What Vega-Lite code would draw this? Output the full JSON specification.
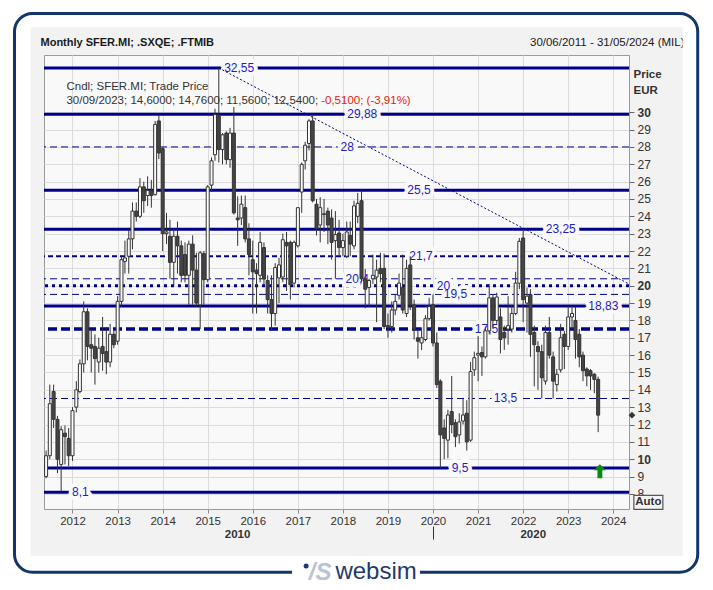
{
  "$schema": "https://vega.github.io/schema/vega-lite/v6.json",
  "width": 585,
  "height": 454,
  "autosize": {"type": "none"},
  "padding": {"left": 44, "top": 55, "right": 84, "bottom": 81},
  "background": "#f2f2f2",
  "config": {"font": "Liberation Sans", "view": {"stroke": "#9a9a9a", "fill": "#f9f9f9"}},
  "datasets": {
    "candles": [
      {"date": "2011-06-01", "open": 9.0, "high": 10.5, "low": 8.9, "close": 10.2},
      {"date": "2011-07-01", "open": 10.2, "high": 14.3, "low": 10.0, "close": 13.2},
      {"date": "2011-08-01", "open": 13.9, "high": 14.3, "low": 11.8, "close": 12.3},
      {"date": "2011-09-01", "open": 12.3, "high": 12.5, "low": 9.2, "close": 10.0},
      {"date": "2011-10-01", "open": 9.7, "high": 11.9, "low": 8.1, "close": 11.7},
      {"date": "2011-11-01", "open": 11.5, "high": 11.95, "low": 9.7, "close": 11.3},
      {"date": "2011-12-01", "open": 11.2, "high": 11.8, "low": 9.6, "close": 10.2},
      {"date": "2012-01-01", "open": 10.2, "high": 13.0, "low": 9.9, "close": 12.8},
      {"date": "2012-02-01", "open": 13.0, "high": 14.5, "low": 12.7, "close": 14.0},
      {"date": "2012-03-01", "open": 13.9, "high": 15.75, "low": 13.8, "close": 15.5},
      {"date": "2012-04-01", "open": 15.5, "high": 19.1, "low": 15.0, "close": 18.5},
      {"date": "2012-05-01", "open": 18.5, "high": 18.7, "low": 15.7, "close": 16.5},
      {"date": "2012-06-01", "open": 16.6, "high": 17.5, "low": 15.0, "close": 16.4},
      {"date": "2012-07-01", "open": 16.5, "high": 17.2, "low": 14.3, "close": 15.8},
      {"date": "2012-08-01", "open": 15.6, "high": 17.0, "low": 15.0, "close": 16.4},
      {"date": "2012-09-01", "open": 16.5, "high": 18.2, "low": 15.1, "close": 16.1},
      {"date": "2012-10-01", "open": 16.2, "high": 17.6, "low": 14.9, "close": 15.6},
      {"date": "2012-11-01", "open": 15.6, "high": 17.8, "low": 15.3, "close": 17.2},
      {"date": "2012-12-01", "open": 17.2, "high": 17.5, "low": 16.4, "close": 16.6},
      {"date": "2013-01-01", "open": 16.8, "high": 19.4, "low": 16.6, "close": 19.1},
      {"date": "2013-02-01", "open": 19.1, "high": 21.7, "low": 18.8, "close": 21.5},
      {"date": "2013-03-01", "open": 21.4, "high": 22.6, "low": 20.7, "close": 21.6},
      {"date": "2013-04-01", "open": 21.7, "high": 23.2, "low": 20.7, "close": 22.7},
      {"date": "2013-05-01", "open": 22.7, "high": 24.8, "low": 22.1, "close": 24.3},
      {"date": "2013-06-01", "open": 24.3, "high": 24.8, "low": 23.7, "close": 24.0},
      {"date": "2013-07-01", "open": 24.0, "high": 26.2, "low": 23.9, "close": 25.7},
      {"date": "2013-08-01", "open": 25.7, "high": 26.0, "low": 24.2, "close": 24.9},
      {"date": "2013-09-01", "open": 25.2, "high": 26.3, "low": 24.6, "close": 25.5},
      {"date": "2013-10-01", "open": 25.5, "high": 26.1, "low": 24.5, "close": 25.2},
      {"date": "2013-11-01", "open": 25.25, "high": 29.5, "low": 25.2, "close": 29.3},
      {"date": "2013-12-01", "open": 29.5, "high": 29.87, "low": 27.3, "close": 27.65},
      {"date": "2014-01-01", "open": 27.9, "high": 28.0, "low": 22.0, "close": 23.0},
      {"date": "2014-02-01", "open": 23.0, "high": 24.2, "low": 22.4, "close": 23.1},
      {"date": "2014-03-01", "open": 22.85, "high": 23.8, "low": 20.4, "close": 21.35},
      {"date": "2014-04-01", "open": 21.35, "high": 23.3, "low": 20.0, "close": 22.85},
      {"date": "2014-05-01", "open": 22.85, "high": 23.7, "low": 20.7, "close": 22.3},
      {"date": "2014-06-01", "open": 22.3, "high": 22.6, "low": 20.2, "close": 20.6},
      {"date": "2014-07-01", "open": 21.8, "high": 22.5, "low": 20.2, "close": 20.6},
      {"date": "2014-08-01", "open": 20.6, "high": 22.6, "low": 18.9, "close": 22.4},
      {"date": "2014-09-01", "open": 22.4, "high": 22.9, "low": 18.9, "close": 20.9},
      {"date": "2014-10-01", "open": 20.9, "high": 21.9, "low": 18.8, "close": 19.0},
      {"date": "2014-11-01", "open": 18.9, "high": 22.0, "low": 17.5, "close": 21.9},
      {"date": "2014-12-01", "open": 21.85, "high": 22.0, "low": 18.9, "close": 20.35},
      {"date": "2015-01-01", "open": 20.35, "high": 25.8, "low": 20.2, "close": 25.7},
      {"date": "2015-02-01", "open": 25.8, "high": 27.4, "low": 25.4, "close": 27.2},
      {"date": "2015-03-01", "open": 27.55, "high": 30.2, "low": 27.2, "close": 29.86},
      {"date": "2015-04-01", "open": 29.77, "high": 32.55, "low": 27.1, "close": 27.85},
      {"date": "2015-05-01", "open": 27.85, "high": 28.8, "low": 27.0, "close": 28.7},
      {"date": "2015-06-01", "open": 28.8, "high": 28.9, "low": 27.0, "close": 27.27},
      {"date": "2015-07-01", "open": 27.27, "high": 29.1, "low": 26.8, "close": 28.8},
      {"date": "2015-08-01", "open": 28.8, "high": 30.3, "low": 24.1, "close": 24.2},
      {"date": "2015-09-01", "open": 23.9, "high": 25.15, "low": 22.3, "close": 23.8},
      {"date": "2015-10-01", "open": 23.9, "high": 25.2, "low": 23.5, "close": 24.7},
      {"date": "2015-11-01", "open": 24.5, "high": 25.2, "low": 22.5, "close": 22.7},
      {"date": "2015-12-01", "open": 22.7, "high": 23.6, "low": 20.6, "close": 21.8},
      {"date": "2016-01-01", "open": 21.5, "high": 22.6, "low": 18.4, "close": 20.8},
      {"date": "2016-02-01", "open": 20.9, "high": 21.3, "low": 18.4, "close": 20.7},
      {"date": "2016-03-01", "open": 20.6, "high": 23.1, "low": 20.2, "close": 22.5},
      {"date": "2016-04-01", "open": 22.2, "high": 22.5, "low": 20.0, "close": 20.4},
      {"date": "2016-05-01", "open": 20.3, "high": 20.6, "low": 18.4, "close": 19.2},
      {"date": "2016-06-01", "open": 19.2, "high": 20.6, "low": 17.4, "close": 18.4},
      {"date": "2016-07-01", "open": 18.4, "high": 21.3, "low": 17.7, "close": 21.05},
      {"date": "2016-08-01", "open": 20.45, "high": 21.6, "low": 19.0, "close": 21.2},
      {"date": "2016-09-01", "open": 20.5, "high": 23.0, "low": 20.2, "close": 22.65},
      {"date": "2016-10-01", "open": 22.5, "high": 23.1, "low": 19.7, "close": 22.3},
      {"date": "2016-11-01", "open": 22.5, "high": 22.6, "low": 19.2, "close": 20.05},
      {"date": "2016-12-01", "open": 20.15, "high": 22.6, "low": 19.9, "close": 22.5},
      {"date": "2017-01-01", "open": 22.3, "high": 24.5, "low": 22.2, "close": 24.5},
      {"date": "2017-02-01", "open": 25.4, "high": 27.1, "low": 24.2, "close": 27.0},
      {"date": "2017-03-01", "open": 27.2, "high": 28.3, "low": 26.7, "close": 28.1},
      {"date": "2017-04-01", "open": 28.2, "high": 29.6, "low": 27.8, "close": 29.5},
      {"date": "2017-05-01", "open": 29.5, "high": 29.88, "low": 24.8, "close": 24.9},
      {"date": "2017-06-01", "open": 24.7, "high": 25.0, "low": 22.9, "close": 23.3},
      {"date": "2017-07-01", "open": 23.5, "high": 25.1, "low": 22.5, "close": 24.5},
      {"date": "2017-08-01", "open": 24.1, "high": 25.0, "low": 23.1, "close": 24.15},
      {"date": "2017-09-01", "open": 24.3, "high": 24.5, "low": 22.4, "close": 23.5},
      {"date": "2017-10-01", "open": 23.9, "high": 24.4, "low": 21.5, "close": 22.5},
      {"date": "2017-11-01", "open": 22.6, "high": 24.3, "low": 20.4, "close": 22.95},
      {"date": "2017-12-01", "open": 23.04, "high": 23.8, "low": 21.7, "close": 22.2},
      {"date": "2018-01-01", "open": 22.2, "high": 23.0, "low": 21.7, "close": 22.6},
      {"date": "2018-02-01", "open": 21.7, "high": 23.7, "low": 21.6, "close": 23.1},
      {"date": "2018-03-01", "open": 22.9, "high": 23.7, "low": 21.7, "close": 22.4},
      {"date": "2018-04-01", "open": 22.3, "high": 24.9, "low": 22.1, "close": 24.6},
      {"date": "2018-05-01", "open": 24.0, "high": 25.35, "low": 23.6, "close": 24.75},
      {"date": "2018-06-01", "open": 24.9, "high": 25.5, "low": 20.2, "close": 20.4},
      {"date": "2018-07-01", "open": 20.4, "high": 20.96, "low": 18.7, "close": 19.8},
      {"date": "2018-08-01", "open": 19.9, "high": 20.4, "low": 18.8, "close": 20.3},
      {"date": "2018-09-01", "open": 20.4, "high": 21.8, "low": 20.1, "close": 20.6},
      {"date": "2018-10-01", "open": 20.5, "high": 21.5, "low": 17.9, "close": 20.9},
      {"date": "2018-11-01", "open": 21.0, "high": 21.9, "low": 20.2, "close": 20.7},
      {"date": "2018-12-01", "open": 21.0, "high": 21.85, "low": 17.5, "close": 17.65},
      {"date": "2019-01-01", "open": 17.7, "high": 18.4, "low": 17.0, "close": 17.6},
      {"date": "2019-02-01", "open": 17.65, "high": 19.1, "low": 17.3, "close": 18.6},
      {"date": "2019-03-01", "open": 18.6, "high": 19.5, "low": 18.3, "close": 19.1},
      {"date": "2019-04-01", "open": 19.45, "high": 20.7, "low": 19.2, "close": 20.15},
      {"date": "2019-05-01", "open": 19.9, "high": 21.8, "low": 18.4, "close": 18.6},
      {"date": "2019-06-01", "open": 18.4, "high": 21.5, "low": 18.2, "close": 21.0},
      {"date": "2019-07-01", "open": 21.2, "high": 21.7, "low": 18.6, "close": 18.9},
      {"date": "2019-08-01", "open": 18.9, "high": 19.2, "low": 16.9, "close": 17.5},
      {"date": "2019-09-01", "open": 17.0, "high": 17.5, "low": 15.8, "close": 16.8},
      {"date": "2019-10-01", "open": 16.7, "high": 17.6, "low": 16.3, "close": 17.0},
      {"date": "2019-11-01", "open": 16.9, "high": 18.3, "low": 16.8, "close": 18.1},
      {"date": "2019-12-01", "open": 18.1, "high": 19.3, "low": 18.0, "close": 18.8},
      {"date": "2020-01-01", "open": 18.9, "high": 19.5, "low": 16.5, "close": 16.7},
      {"date": "2020-02-01", "open": 16.7, "high": 17.3, "low": 14.1, "close": 14.3},
      {"date": "2020-03-01", "open": 14.5, "high": 14.6, "low": 9.5, "close": 11.4},
      {"date": "2020-04-01", "open": 11.8, "high": 12.3, "low": 10.0, "close": 11.2},
      {"date": "2020-05-01", "open": 11.1, "high": 12.85, "low": 10.05, "close": 12.55},
      {"date": "2020-06-01", "open": 12.75, "high": 14.8, "low": 11.5, "close": 12.0},
      {"date": "2020-07-01", "open": 12.1, "high": 12.3, "low": 10.7, "close": 11.3},
      {"date": "2020-08-01", "open": 11.4, "high": 12.65, "low": 10.9, "close": 12.15},
      {"date": "2020-09-01", "open": 12.2, "high": 13.5, "low": 12.0, "close": 12.55},
      {"date": "2020-10-01", "open": 12.65, "high": 13.4, "low": 10.5, "close": 11.0},
      {"date": "2020-11-01", "open": 11.1, "high": 15.6, "low": 11.0, "close": 15.05},
      {"date": "2020-12-01", "open": 15.15, "high": 16.2, "low": 14.8, "close": 15.85},
      {"date": "2021-01-01", "open": 16.0, "high": 17.1, "low": 14.5, "close": 16.1},
      {"date": "2021-02-01", "open": 16.15, "high": 16.5, "low": 14.8, "close": 15.9},
      {"date": "2021-03-01", "open": 15.9, "high": 17.65, "low": 15.8, "close": 17.4},
      {"date": "2021-04-01", "open": 17.4, "high": 20.1, "low": 17.2, "close": 19.3},
      {"date": "2021-05-01", "open": 19.3, "high": 19.5, "low": 17.6, "close": 18.0},
      {"date": "2021-06-01", "open": 18.0, "high": 19.6, "low": 17.8, "close": 19.35},
      {"date": "2021-07-01", "open": 18.2, "high": 18.7, "low": 16.1, "close": 16.9},
      {"date": "2021-08-01", "open": 17.3, "high": 17.7, "low": 16.3, "close": 17.0},
      {"date": "2021-09-01", "open": 17.5, "high": 19.4, "low": 16.6, "close": 17.7},
      {"date": "2021-10-01", "open": 17.5, "high": 18.9, "low": 17.3, "close": 18.4},
      {"date": "2021-11-01", "open": 18.4, "high": 20.8, "low": 18.3, "close": 20.15},
      {"date": "2021-12-01", "open": 20.15, "high": 22.75, "low": 19.8, "close": 22.56},
      {"date": "2022-01-01", "open": 22.75, "high": 23.25, "low": 17.9, "close": 19.2},
      {"date": "2022-02-01", "open": 19.0, "high": 19.9, "low": 17.3, "close": 19.4},
      {"date": "2022-03-01", "open": 19.5, "high": 19.8, "low": 15.9, "close": 17.2},
      {"date": "2022-04-01", "open": 17.3, "high": 17.7, "low": 14.2, "close": 16.6},
      {"date": "2022-05-01", "open": 16.5, "high": 16.8, "low": 14.0, "close": 16.2},
      {"date": "2022-06-01", "open": 16.2, "high": 16.6, "low": 13.5, "close": 14.7},
      {"date": "2022-07-01", "open": 14.5, "high": 17.7, "low": 14.3, "close": 17.3},
      {"date": "2022-08-01", "open": 17.3, "high": 18.2, "low": 15.8, "close": 16.0},
      {"date": "2022-09-01", "open": 15.9, "high": 16.2, "low": 13.5, "close": 14.5},
      {"date": "2022-10-01", "open": 14.3, "high": 15.2, "low": 13.9, "close": 14.9},
      {"date": "2022-11-01", "open": 15.15, "high": 17.8, "low": 15.0, "close": 17.0},
      {"date": "2022-12-01", "open": 17.2, "high": 17.4, "low": 15.2, "close": 16.5},
      {"date": "2023-01-01", "open": 16.5, "high": 18.83, "low": 16.3, "close": 18.2},
      {"date": "2023-02-01", "open": 18.2, "high": 18.83, "low": 17.5, "close": 18.4},
      {"date": "2023-03-01", "open": 18.0, "high": 18.8, "low": 15.8, "close": 16.9},
      {"date": "2023-04-01", "open": 17.2, "high": 17.5, "low": 15.3, "close": 15.9},
      {"date": "2023-05-01", "open": 16.0, "high": 16.2, "low": 14.5, "close": 15.1},
      {"date": "2023-06-01", "open": 15.2, "high": 15.3, "low": 14.2, "close": 14.8},
      {"date": "2023-07-01", "open": 15.1, "high": 15.2, "low": 14.0, "close": 14.8},
      {"date": "2023-08-01", "open": 14.9, "high": 14.95, "low": 13.8, "close": 14.6},
      {"date": "2023-09-01", "open": 14.6, "high": 14.76, "low": 11.56, "close": 12.54}
    ],
    "lvSolid": [{"value": 32.55}, {"value": 29.88}, {"value": 25.5}, {"value": 23.25}, {"value": 18.83}, {"value": 9.5}, {"value": 8.1}],
    "lvThin": [{"value": 28}, {"value": 20.4}, {"value": 19.5}, {"value": 13.5}],
    "lvDash": [{"value": 21.7}],
    "lvDot": [{"value": 20}],
    "lvLong": [{"value": 17.5}],
    "lvLabels": [
      {"value": 32.55, "label": "32,55", "at": "2015-09-13"},
      {"value": 29.88, "label": "29,88", "at": "2018-06-07"},
      {"value": 28, "label": "28", "at": "2018-02-05"},
      {"value": 25.5, "label": "25,5", "at": "2019-09-10"},
      {"value": 23.25, "label": "23,25", "at": "2022-11-02"},
      {"value": 21.7, "label": "21,7", "at": "2019-09-26"},
      {"value": 20.4, "label": "20,4", "at": "2018-04-27"},
      {"value": 20, "label": "20", "at": "2020-03-26"},
      {"value": 19.5, "label": "19,5", "at": "2020-07-01"},
      {"value": 18.83, "label": "18,83", "at": "2023-10-13"},
      {"value": 17.5, "label": "17,5", "at": "2021-03-10"},
      {"value": 13.5, "label": "13,5", "at": "2021-08-11"},
      {"value": 9.5, "label": "9,5", "at": "2020-08-07"},
      {"value": 8.1, "label": "8,1", "at": "2012-03-05"}
    ],
    "trend": [{"at": "2015-04-01", "value": 32.55}, {"at": "2024-05-08", "value": 20.1}],
    "legend": [
      {"at": "2011-11-13", "value": 31.48, "text": "Cndl; SFER.MI; Trade Price", "kind": "info"},
      {"at": "2011-11-13", "value": 30.67, "text": "30/09/2023; 14,6000; 14,7600; 11,5600; 12,5400;", "kind": "info"},
      {"at": "2017-07-09", "value": 30.67, "text": "-0,5100; (-3,91%)", "kind": "change"}
    ]
  },
  "layer": [
    {
      "data": {"values": [{}]},
      "mark": {"type": "rect", "fill": "transparent", "stroke": "#ffffff", "strokeWidth": 80, "clip": false},
      "encoding": {
        "x": {"datum": {"year": 2010, "month": 3, "date": 8}, "type": "temporal", "axis": null, "scale": {"domain": [{"year": 2011, "month": 5, "date": 15}, {"year": 2024, "month": 5, "date": 8}], "padding": 0}},
        "x2": {"datum": {"year": 2026, "month": 6, "date": 7}},
        "y": {"datum": 37.2, "type": "quantitative", "axis": null, "scale": {"domain": [7.13, 33.3], "zero": false, "nice": false, "padding": 0}},
        "y2": {"datum": 2.11}
      }
    },
    {
      "data": {"values": [{}]},
      "mark": {"type": "rect", "fill": "transparent", "stroke": "#14356a", "strokeWidth": 3, "cornerRadius": 18, "clip": false},
      "encoding": {
        "x": {"datum": {"year": 2010, "month": 9, "date": 18}, "type": "temporal", "axis": null},
        "x2": {"datum": {"year": 2025, "month": 11, "date": 16}},
        "y": {"datum": 35.69, "type": "quantitative", "axis": null},
        "y2": {"datum": 3.48}
      }
    },
    {
      "data": {"values": [{}]},
      "mark": {"type": "point", "filled": true, "fill": "#ffffff", "opacity": 1, "strokeWidth": 0, "size": 16384, "shape": "M-1,-0.125L1,-0.125L1,0.125L-1,0.125Z", "clip": false},
      "encoding": {
        "x": {"datum": {"year": 2018, "month": 4, "date": 17}, "type": "temporal", "axis": null},
        "y": {"datum": 3.49, "type": "quantitative", "axis": null}
      }
    },
    {
      "data": {"values": [{}]},
      "mark": {"type": "text", "text": "websim", "fontSize": 24, "color": "#1f3a6b", "align": "center", "baseline": "middle", "clip": false},
      "encoding": {
        "x": {"datum": {"year": 2018, "month": 9, "date": 27}, "type": "temporal", "axis": null},
        "y": {"datum": 3.49, "type": "quantitative", "axis": null}
      }
    },
    {
      "data": {"values": [{}]},
      "mark": {"type": "text", "text": "/S", "fontSize": 24, "fontStyle": "italic", "fontWeight": "bold", "color": "#b8c4d4", "align": "center", "baseline": "middle", "clip": false},
      "encoding": {
        "x": {"datum": {"year": 2017, "month": 7, "date": 1}, "type": "temporal", "axis": null},
        "y": {"datum": 3.45, "type": "quantitative", "axis": null}
      }
    },
    {
      "data": {"values": [{}]},
      "mark": {"type": "point", "shape": "circle", "filled": true, "color": "#1f3a6b", "opacity": 1, "size": 25, "clip": false},
      "encoding": {
        "x": {"datum": {"year": 2017, "month": 3, "date": 9}, "type": "temporal", "axis": null},
        "y": {"datum": 3.84, "type": "quantitative", "axis": null}
      }
    },
    {
      "data": {"name": "lvSolid"},
      "mark": {"type": "rule", "color": "#00008c", "strokeWidth": 3},
      "encoding": {"y": {"field": "value", "type": "quantitative", "axis": null}}
    },
    {
      "data": {"name": "lvThin"},
      "mark": {"type": "rule", "color": "#00008c", "strokeWidth": 1, "strokeDash": [7, 4]},
      "encoding": {"y": {"field": "value", "type": "quantitative", "axis": null}}
    },
    {
      "data": {"name": "lvDash"},
      "mark": {"type": "rule", "color": "#00008c", "strokeWidth": 2, "strokeDash": [5, 3]},
      "encoding": {"y": {"field": "value", "type": "quantitative", "axis": null}}
    },
    {
      "data": {"name": "lvDot"},
      "mark": {"type": "rule", "color": "#00008c", "strokeWidth": 3, "strokeDash": [3, 4]},
      "encoding": {"y": {"field": "value", "type": "quantitative", "axis": null}}
    },
    {
      "data": {"name": "lvLong"},
      "mark": {"type": "rule", "color": "#00008c", "strokeWidth": 3.5, "strokeDash": [9, 4]},
      "encoding": {"y": {"field": "value", "type": "quantitative", "axis": null}}
    },
    {
      "data": {"name": "lvLabels"},
      "mark": {"type": "text", "fontSize": 12, "fill": "#f9f9f9", "stroke": "#f9f9f9", "strokeWidth": 8, "strokeJoin": "round", "align": "center", "baseline": "middle"},
      "encoding": {
        "x": {"field": "at", "type": "temporal", "axis": null},
        "y": {"field": "value", "type": "quantitative", "axis": null},
        "text": {"field": "label"}
      }
    },
    {
      "data": {"name": "lvLabels"},
      "mark": {"type": "text", "fontSize": 12, "fill": "#1c1cc8", "align": "center", "baseline": "middle"},
      "encoding": {
        "x": {"field": "at", "type": "temporal", "axis": null},
        "y": {"field": "value", "type": "quantitative", "axis": null},
        "text": {"field": "label"}
      }
    },
    {
      "data": {"name": "trend"},
      "mark": {"type": "line", "color": "#00008c", "strokeWidth": 1, "strokeDash": [2, 2]},
      "encoding": {
        "x": {"field": "at", "type": "temporal", "axis": {"orient": "top", "domain": false, "ticks": false, "labels": false, "grid": false, "title": "30/06/2011 - 31/05/2024 (MIL)", "titleX": 640, "titleY": -8, "titleAlign": "right", "titleAnchor": null, "titleBaseline": "bottom", "titleLimit": 1000, "titleFontWeight": "normal", "titleFontSize": 11.5, "titleColor": "#1a1a1a"}},
        "y": {"field": "value", "type": "quantitative", "axis": null}
      }
    },
    {
      "data": {"name": "candles"},
      "mark": {"type": "rule", "color": "#333333", "strokeWidth": 1},
      "encoding": {
        "x": {"field": "date", "type": "temporal", "scale": {"padding": 0}, "axis": {"orient": "bottom", "values": [{"year": 2015, "month": 8, "date": 27}, {"year": 2022, "month": 3, "date": 20}], "labelExpr": "year(datum.value) < 2020 ? '2010' : '2020'", "ticks": false, "tickSize": 0, "domain": false, "grid": false, "labelFontWeight": "bold", "labelFontSize": 11.5, "labelColor": "#333333", "offset": 17, "labelPadding": 2, "title": null}},
        "y": {"field": "low", "type": "quantitative", "axis": null},
        "y2": {"field": "high"}
      }
    },
    {
      "data": {"name": "candles"},
      "mark": {"type": "bar", "size": 3, "stroke": "#333333", "strokeWidth": 1},
      "encoding": {
        "x": {"field": "date", "type": "temporal", "scale": {"padding": 0}, "axis": {"orient": "bottom", "tickCount": {"interval": "year", "step": 1}, "format": "%Y", "grid": true, "gridColor": "#dcdcdc", "tickSize": 4, "tickColor": "#888888", "domain": false, "labelFontSize": 11.5, "labelColor": "#333333", "labelPadding": 2, "title": null}},
        "y": {"field": "open", "type": "quantitative", "axis": {"orient": "right", "values": [8, 9, 10, 11, 12, 13, 14, 15, 16, 17, 18, 19, 20, 21, 22, 23, 24, 25, 26, 27, 28, 29, 30], "grid": true, "gridColor": "#dcdcdc", "tickSize": 5, "tickColor": "#666666", "domain": false, "labelOverlap": false, "labelFontSize": 12, "labelColor": "#333333", "labelPadding": 3, "labelFontWeight": {"condition": {"test": "datum.value % 10 === 0", "value": "bold"}, "value": "normal"}, "title": ["Price", "EUR"], "titleAngle": 0, "titleAlign": "left", "titleBaseline": "top", "titleX": 4, "titleY": 13, "titleLineHeight": 16, "titleFontWeight": "bold", "titleFontSize": 11.5, "titleColor": "#333333"}},
        "y2": {"field": "close"},
        "fill": {"condition": {"test": "datum.close >= datum.open", "value": "#fbfbfb"}, "value": "#454545"}
      }
    },
    {
      "data": {"values": [{}]},
      "mark": {"type": "point", "filled": true, "color": "#0a8a14", "opacity": 1, "size": 196, "shape": "M0,-1L0.9,-0.15L0.35,-0.15L0.35,1L-0.35,1L-0.35,-0.15L-0.9,-0.15Z"},
      "encoding": {
        "x": {"datum": {"year": 2023, "month": 9, "date": 15}, "type": "temporal", "axis": {"orient": "bottom", "values": [{"year": 2020, "month": 1, "date": 1}], "labels": false, "domain": false, "grid": false, "ticks": true, "tickSize": 13, "tickColor": "#333333", "offset": 17, "title": null}},
        "y": {"datum": 9.3, "type": "quantitative", "axis": null}
      }
    },
    {
      "data": {"values": [{}]},
      "mark": {"type": "point", "shape": "diamond", "filled": true, "color": "#333333", "opacity": 1, "size": 45, "clip": false},
      "encoding": {
        "x": {"datum": {"year": 2024, "month": 6, "date": 1}, "type": "temporal", "axis": null},
        "y": {"datum": 12.54, "type": "quantitative", "axis": null}
      }
    },
    {
      "data": {"name": "legend"},
      "mark": {"type": "text", "fontSize": 11.5, "align": "left", "baseline": "middle"},
      "encoding": {
        "x": {"field": "at", "type": "temporal", "axis": {"orient": "top", "domain": false, "ticks": false, "labels": false, "grid": false, "title": "Monthly SFER.MI; .SXQE; .FTMIB", "titleX": -4, "titleY": -8, "titleAlign": "left", "titleAnchor": null, "titleBaseline": "bottom", "titleLimit": 1000, "titleFontWeight": "bold", "titleFontSize": 11, "titleColor": "#1a1a1a"}},
        "y": {"field": "value", "type": "quantitative", "axis": null},
        "text": {"field": "text"},
        "color": {"field": "kind", "type": "nominal", "scale": {"domain": ["info", "change"], "range": ["#333333", "#e8180c"]}, "legend": null}
      }
    },
    {
      "data": {"values": [{}]},
      "mark": {"type": "point", "filled": true, "fill": "#f2f2f2", "stroke": "#555555", "strokeWidth": 1.2, "opacity": 1, "size": 841, "shape": "M-1,-0.48L1,-0.48L1,0.48L-1,0.48Z", "clip": false},
      "encoding": {
        "x": {"datum": {"year": 2024, "month": 10, "date": 12}, "type": "temporal", "axis": null},
        "y": {"datum": 7.51, "type": "quantitative", "axis": null}
      }
    },
    {
      "data": {"values": [{}]},
      "mark": {"type": "text", "text": "Auto", "fontSize": 11.5, "fontWeight": "bold", "color": "#333333", "align": "center", "baseline": "middle", "clip": false},
      "encoding": {
        "x": {"datum": {"year": 2024, "month": 10, "date": 12}, "type": "temporal", "axis": null},
        "y": {"datum": 7.51, "type": "quantitative", "axis": null}
      }
    }
  ],
  "resolve": {"axis": {"x": "independent", "y": "independent"}}
}
